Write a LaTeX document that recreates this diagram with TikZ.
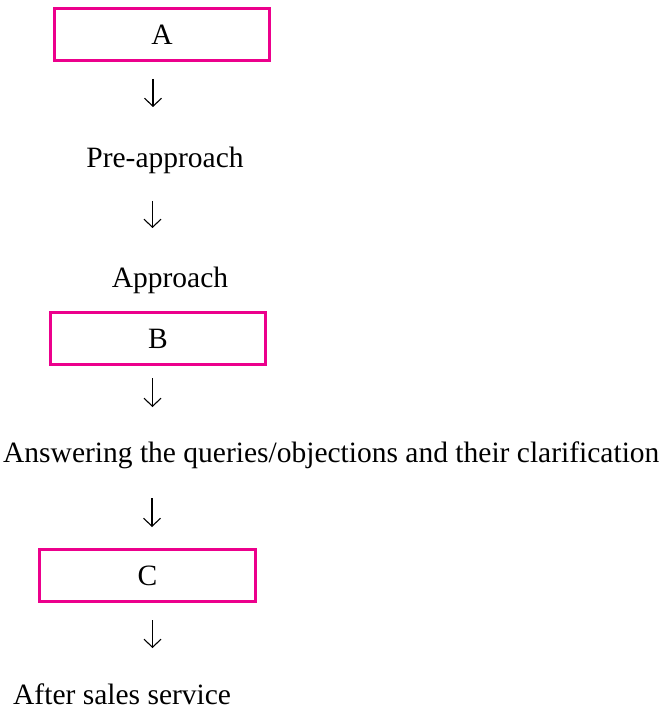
\documentclass[tikz,border=0pt]{standalone}
\usepackage{fontspec}
\setmainfont{Liberation Serif}
\usetikzlibrary{arrows.meta}

\definecolor{boxpink}{RGB}{236,0,140}
\tikzset{
    stagebox/.style={draw=boxpink, line width=2.7pt, minimum width=215.5pt, minimum height=52.3pt, inner sep=0pt},
    stagetext/.style={inner sep=0pt},
    flow/.style={line width=1.1pt, -{Straight Barb[length=8pt, width=17pt, line width=1.1pt]}}
}

\begin{document}
\begin{tikzpicture}[x=1pt, y=-1pt, font=\fontsize{29.5}{35}\selectfont]

    \useasboundingbox (0, 0) rectangle (667, 711);

    % stages
    \node [stagebox] (A) at (162, 34.5) {A};
    \node [stagetext, anchor=base] (pre) at (165, 168) {Pre-approach};
    \node [stagetext, anchor=base] (appr) at (170, 287) {Approach};
    \node [stagebox] (B) at (158, 338.5) {B};
    \node [stagetext, anchor=base west] (answer) at (3, 462) {Answering the queries/objections and their clarification};
    \node [stagebox] (C) at (147.5, 575.5) {C};
    \node [stagetext, anchor=base west] (after) at (13, 704) {After sales service};

    % arrows
    \coordinate (s1) at (153, 79);   \coordinate (e1) at (153, 107);
    \coordinate (s2) at (152.5, 201); \coordinate (e2) at (152.5, 228);
    \coordinate (s3) at (152.5, 378); \coordinate (e3) at (152.5, 407);
    \coordinate (s4) at (152, 498);   \coordinate (e4) at (152, 527);
    \coordinate (s5) at (152.5, 620); \coordinate (e5) at (152.5, 648);
    \foreach \i in {1,...,5} {
        \draw[flow] (s\i) -- (e\i);
    }

\end{tikzpicture}
\end{document}
